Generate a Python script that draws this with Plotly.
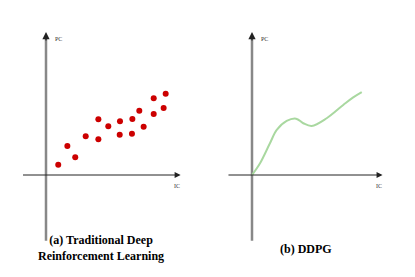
import plotly.graph_objects as go

# Panel (a): scatter of IC vs PC
scatter_x = [0.9, 1.57, 2.15, 2.92, 3.85, 3.85, 4.58, 5.44, 5.42, 6.35, 6.32, 6.86, 7.18, 7.92, 7.92, 8.65, 8.8]
scatter_y = [0.72, 2.03, 1.24, 2.71, 3.90, 2.50, 3.41, 3.76, 2.82, 3.92, 2.89, 4.50, 3.38, 5.36, 4.27, 4.69, 5.69]

# Panel (b): smooth DDPG curve
curve_x = [0.0, 0.59, 1.32, 1.82, 2.55, 3.24, 3.77, 4.39, 5.49, 6.71, 7.44, 8.07]
curve_y = [0.0, 0.82, 2.22, 3.15, 3.78, 3.94, 3.62, 3.43, 3.97, 4.90, 5.43, 5.80]

captions = ["(a) Traditional Deep<br>Reinforcement Learning", "(b) DDPG"]
axis_labels = ["PC", "IC"]

W, H, OFF = 407, 269, 8
SERIF = "'Liberation Serif', 'Times New Roman', serif"

fig = go.Figure()
fig.add_trace(go.Scatter(x=scatter_x, y=scatter_y, mode="markers",
                         marker=dict(color="#cc0000", size=6, line=dict(width=0)),
                         xaxis="x", yaxis="y", showlegend=False))
fig.add_trace(go.Scatter(x=curve_x, y=curve_y, mode="lines",
                         line=dict(color="#a9d8a0", width=2, shape="spline", smoothing=1.0),
                         xaxis="x2", yaxis="y2", showlegend=False))

hidden = dict(showgrid=False, zeroline=False, showticklabels=False, ticks="", showline=False)
fig.update_layout(
    width=W, height=H, autosize=False,
    margin=dict(l=0, r=0, t=0, b=0),
    paper_bgcolor="white", plot_bgcolor="white",
    font=dict(family=SERIF),
    xaxis=dict(domain=[0, 0.5], range=[-2.794, 12.169], **hidden),
    yaxis=dict(domain=[0, 1], range=[-7.133, 11.678], **hidden),
    xaxis2=dict(domain=[0.5, 1], range=[-2.978, 11.985], anchor="y2", **hidden),
    yaxis2=dict(domain=[0, 1], range=[-7.133, 11.678], anchor="x2", **hidden),
)

shapes = []
annotations = []
for xr, yr, xmin, xmax in [("x", "y", -1.8, 9.9), ("x2", "y2", -1.84, 9.6)]:
    shapes.append(dict(type="line", xref=xr, yref=yr, x0=0, x1=0, y0=-4.6, y1=9.7,
                       line=dict(color="#888888", width=2.5), layer="below"))
    annotations.append(dict(x=0, y=10.0, ax=0, ay=9.3, xref=xr, yref=yr, axref=xr, ayref=yr,
                            text="", showarrow=True, arrowhead=2, arrowsize=1.2, arrowwidth=1.2,
                            arrowcolor="#222222"))
    annotations.append(dict(x=xmax, y=0, ax=xmin, ay=0, xref=xr, yref=yr, axref=xr, ayref=yr,
                            text="", showarrow=True, arrowhead=2, arrowsize=1.2, arrowwidth=1,
                            arrowcolor="#222222"))
    annotations.append(dict(x=0.5, y=9.5, xref=xr, yref=yr, text=axis_labels[0], showarrow=False,
                            xanchor="left", yanchor="middle",
                            font=dict(family=SERIF, size=6, color="#333333")))
    annotations.append(dict(x=xmax + 0.1, y=-0.8, xref=xr, yref=yr, text=axis_labels[1], showarrow=False,
                            xanchor="right", yanchor="middle",
                            font=dict(family=SERIF, size=6, color="#333333")))

annotations.append(dict(x=(101 - OFF) / W, y=1 - (248 - OFF) / H, xref="paper", yref="paper",
                        text="<b>" + captions[0] + "</b>",
                        showarrow=False, xanchor="center", yanchor="middle", align="center",
                        font=dict(family=SERIF, size=12, color="black")))
annotations.append(dict(x=(306 - OFF) / W, y=1 - (249 - OFF) / H, xref="paper", yref="paper",
                        text="<b>" + captions[1] + "</b>",
                        showarrow=False, xanchor="center", yanchor="middle",
                        font=dict(family=SERIF, size=12, color="black")))

fig.update_layout(shapes=shapes, annotations=annotations)
fig.write_html("out.html")
